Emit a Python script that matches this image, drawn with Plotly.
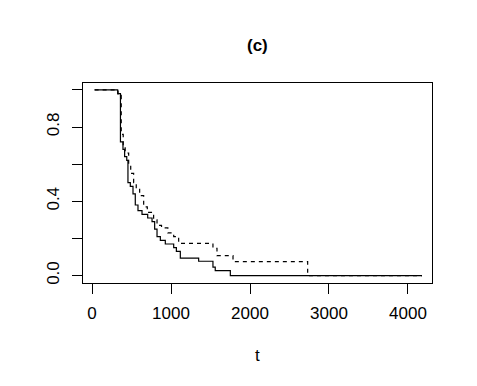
import plotly.graph_objects as go

# solid curve: drop times and level after each drop
t_solid = [33, 325, 360, 392, 413, 440, 455, 485, 519, 548, 582, 633, 705, 760,
           793, 823, 865, 928, 1034, 1068, 1118, 1350, 1531, 1560, 1751, 4177]
s_solid = [1.0, 0.98, 0.72, 0.68, 0.64, 0.62, 0.50, 0.48, 0.44, 0.38, 0.35, 0.33, 0.31, 0.29,
           0.25, 0.21, 0.19, 0.17, 0.15, 0.13, 0.094, 0.077, 0.045, 0.027, 0.0, 0.0]

# dashed curve: drop times and level after each drop
t_dashed = [33, 330, 370, 395, 420, 464, 490, 527, 560, 603, 654, 700, 780, 823,
            880, 960, 1034, 1097, 1531, 1582, 1785, 2730, 4177]
s_dashed = [1.0, 0.97, 0.76, 0.70, 0.66, 0.60, 0.55, 0.50, 0.47, 0.43, 0.37, 0.34, 0.30, 0.27,
            0.257, 0.23, 0.21, 0.173, 0.147, 0.107, 0.075, 0.0, 0.0]

x_ticks = [0, 1000, 2000, 3000, 4000]
y_ticks = [0.0, 0.2, 0.4, 0.6, 0.8, 1.0]
y_ticktext = ["0.0", "", "0.4", "", "0.8", ""]

font = "Liberation Sans, Arial, sans-serif"

fig = go.Figure()
fig.add_trace(go.Scatter(x=t_solid, y=s_solid, mode="lines", line_shape="hv",
                         line=dict(color="black", width=1.2)))
fig.add_trace(go.Scatter(x=t_dashed, y=s_dashed, mode="lines", line_shape="hv",
                         line=dict(color="black", width=1.2, dash="4px,4px")))

# page body has an 8px margin, so margins are offset to land the box at 83..432 x 83..283
fig.update_layout(
    width=477, height=386,
    margin=dict(l=75, r=53, t=75, b=111),
    plot_bgcolor="white", paper_bgcolor="white",
    showlegend=False,
    font=dict(family=font, size=17, color="black"),
    annotations=[
        dict(text="<b>(c)</b>", x=0.5, y=1.19, xref="paper", yref="paper",
             yanchor="middle", showarrow=False, font=dict(size=17)),
        dict(text="t", x=0.5, y=-0.364, xref="paper", yref="paper",
             yanchor="middle", showarrow=False, font=dict(size=17)),
    ],
)
fig.update_xaxes(range=[-114, 4304], tickvals=x_ticks, ticks="outside", ticklen=10,
                 tickwidth=1, tickcolor="black", showline=True, linecolor="black",
                 linewidth=1, mirror=True, showgrid=False, zeroline=False,
                 automargin=False, ticklabelstandoff=5)
fig.update_yaxes(range=[-0.04, 1.037], tickvals=y_ticks, ticktext=y_ticktext,
                 tickangle=-90, ticks="outside", ticklen=10, tickwidth=1,
                 tickcolor="black", showline=True, linecolor="black", linewidth=1,
                 mirror=True, showgrid=False, zeroline=False, automargin=False,
                 ticklabelstandoff=6)

fig.write_html("out.html")
